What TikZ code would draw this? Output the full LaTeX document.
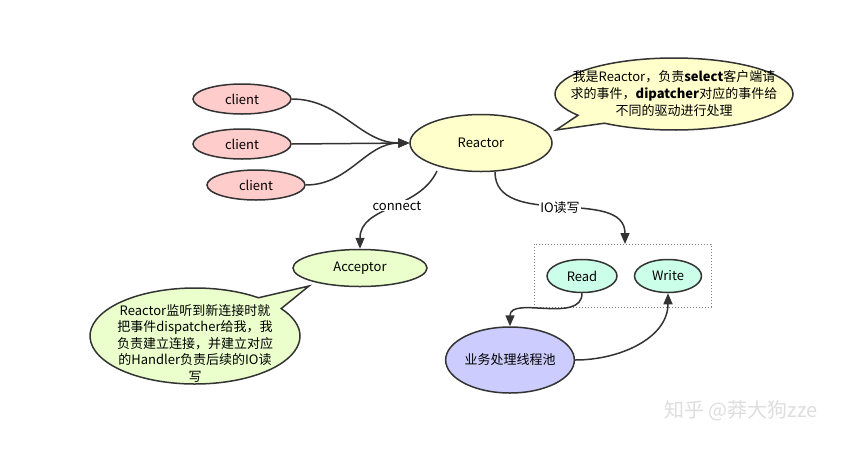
\documentclass[tikz,border=0pt]{standalone}
\usepackage{fontspec}
\setmainfont{Noto Sans CJK SC}
\usetikzlibrary{shapes.geometric,shapes.callouts,arrows.meta}
\definecolor{edgec}{HTML}{333333}
\definecolor{clientc}{HTML}{FFCCCC}
\definecolor{reactc}{HTML}{FFFFCC}
\definecolor{accc}{HTML}{EAFFCC}
\definecolor{rwc}{HTML}{CCFFEA}
\definecolor{poolc}{HTML}{CCCCFF}
\begin{document}
\begin{tikzpicture}[x=1pt,y=-1pt,
  font=\fontsize{13}{17}\selectfont,
  el/.style={ellipse, draw=edgec, line width=1.5pt, inner sep=0pt},
  conn/.style={draw=edgec, line width=1.5pt, -{Triangle[length=11pt,width=9pt]}},
  lbl/.style={fill=white, inner sep=1pt},
  bubble/.style={ellipse callout, draw=edgec, line width=1.5pt, inner sep=0pt, callout pointer arc=18}]
\useasboundingbox (0,0) rectangle (843,448);
\fill[white] (0,0) rectangle (843,448);

\node[el, fill=clientc, minimum width=98pt, minimum height=30pt] (c1) at (242,99) {client};
\node[el, fill=clientc, minimum width=98pt, minimum height=30pt] (c2) at (242,144) {client};
\node[el, fill=clientc, minimum width=98pt, minimum height=30pt] (c3) at (256,185) {client};
\node[el, fill=reactc, minimum width=142pt, minimum height=57pt] (R) at (481,143) {Reactor};
\node[el, fill=accc, minimum width=134pt, minimum height=37pt] (A) at (360,268) {Acceptor};
\node[draw=gray, dotted, line width=1pt, minimum width=177pt, minimum height=63pt, inner sep=0pt] (box) at (622.5,275.5) {};
\node[el, fill=rwc, minimum width=70pt, minimum height=33pt] (rd) at (582,276) {Read};
\node[el, fill=rwc, minimum width=67pt, minimum height=33pt] (wr) at (668,276) {Write};
\node[el, fill=poolc, minimum width=124pt, minimum height=66pt] (pool) at (510,360) {业务处理线程池};

\node[bubble, fill=reactc, minimum width=238pt, minimum height=72pt, callout absolute pointer={(556,130)}] (b1) at (674,94) {};
\node[align=center, inner sep=0pt] (t1) at (b1.center) {我是Reactor，负责\textbf{select}客户端请\\求的事件，\textbf{dipatcher}对应的事件给\\不同的驱动进行处理};

\node[bubble, fill=accc, minimum width=210pt, minimum height=96pt, callout absolute pointer={(309,286)}] (b2) at (195,336) {};
\node[align=center, inner sep=0pt, font=\fontsize{13}{16.5}\selectfont] (t2) at (195,343) {Reactor监听到新连接时就\\把事件dispatcher给我，我\\负责建立连接，并建立对应\\的Handler负责后续的IO读\\写};

\draw[conn] (c1.east) to[out=0,in=180] (R.west);
\draw[conn] (c2.east) -- (R.west);
\draw[conn] (c3.east) to[out=0,in=180] (R.west);

\coordinate (rs1) at (437,171);
\coordinate (rs2) at (495,172);
\draw[conn] (rs1) to[out=-115,in=90] node[lbl, pos=0.45] (lc) {connect} (A.north);
\coordinate (boxtop) at (625,244);
\draw[conn] (rs2) to[out=-90,in=90] node[lbl, pos=0.5] (lio) {IO读写} (boxtop);
\draw[conn] (rd.south) to[out=-90,in=90] (pool.north);
\draw[conn] (pool.east) to[out=0,in=-90] (wr.south);

\node[text=black!13, font=\fontsize{20}{20}\selectfont] (wm) at (741,411) {知乎 @莽大狗zze};
\end{tikzpicture}
\end{document}
